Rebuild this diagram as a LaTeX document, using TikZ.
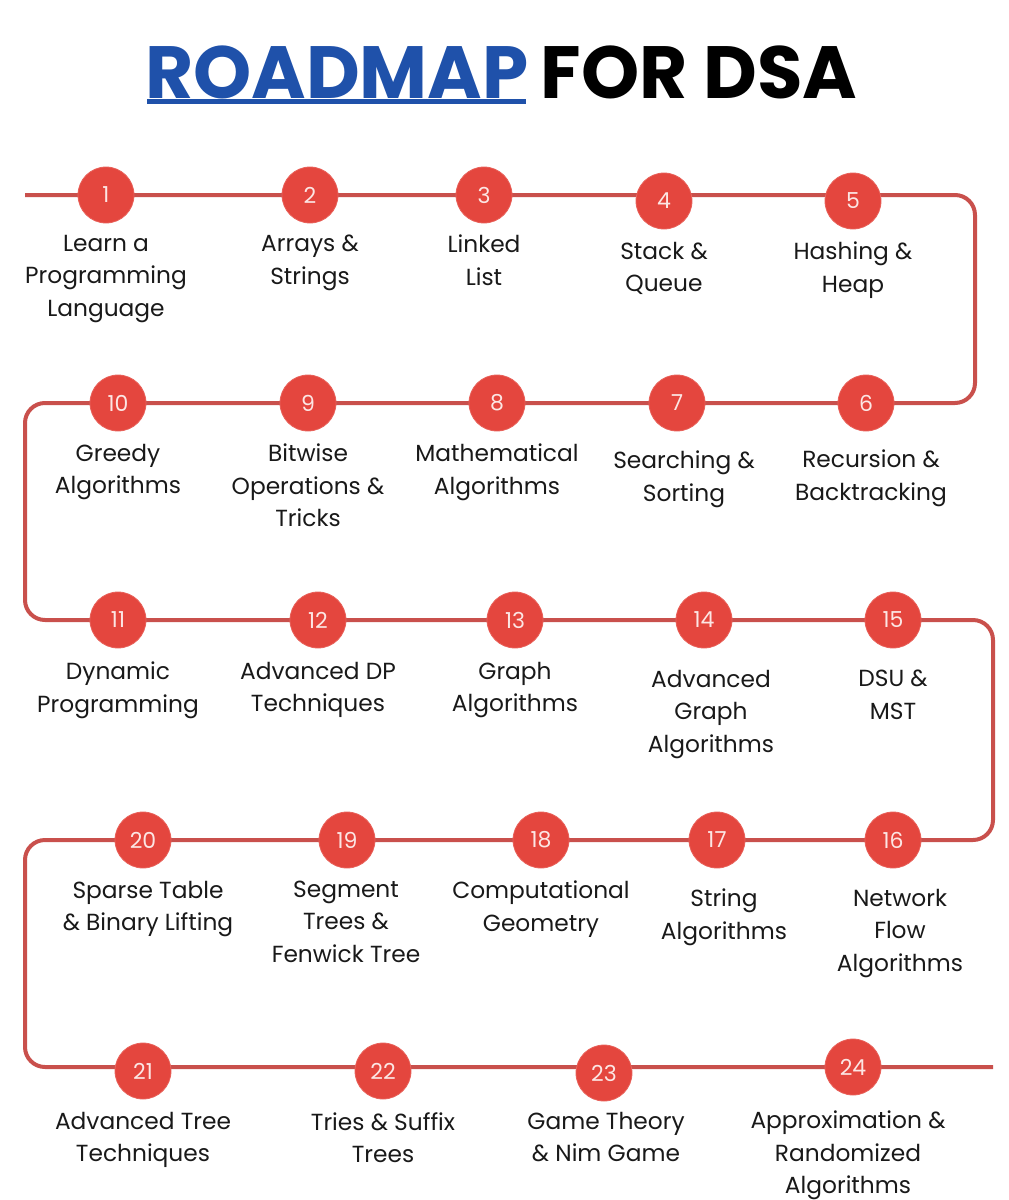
\documentclass[tikz,border=0pt]{standalone}
\usepackage{fontspec}
\setmainfont{Poppins}
\usetikzlibrary{backgrounds}
\definecolor{pathred}{HTML}{C9504C}
\definecolor{circred}{HTML}{E4463E}
\definecolor{numwhite}{HTML}{FCE6E4}
\definecolor{titleblue}{HTML}{1F51AA}
\tikzset{
  stepcirc/.style={circle,fill=circred,draw=circred!85!white,line width=0.8pt,minimum size=56pt,inner sep=0pt,text=numwhite,font=\fontsize{22}{22}\selectfont},
  steplabel/.style={anchor=north,align=center,inner sep=0pt,font=\fontsize{23.3}{32.3}\selectfont,text=black!90},
  road/.style={draw=pathred,line width=4pt,rounded corners=20pt}
}
\begin{document}
\begin{tikzpicture}[x=1pt,y=-1pt]
\useasboundingbox (0,0) rectangle (1009,1200);
% title
\node[anchor=west,inner sep=0pt,text=titleblue,font=\fontsize{74}{74}\selectfont\bfseries] (t1) at (145,72) {ROADMAP};
\node[anchor=base west,inner sep=0pt,font=\fontsize{74}{74}\selectfont\bfseries] (t2) at ([xshift=12pt]t1.base east) {FOR DSA};
\coordinate (u1) at (147,101);
\coordinate (u2) at (526,101);
\draw[titleblue,line width=5pt] (u1) -- (u2);
% circles
\foreach \n/\x/\y in {1/106/195,2/310/195,3/484/195,4/664/201,5/853/201,
  10/118/403,9/308/403,8/497/403,7/677/403,6/866/403,
  11/118/620,12/318/620,13/515/620,14/704/620,15/893/620,
  20/143/840,19/347/840,18/541/840,17/717/840,16/893/840,
  21/143/1071,22/383/1071,23/604/1073,24/853/1067}
  \node[stepcirc] (n\n) at (\x,\y) {\n};
% road
\coordinate (s) at (25,195);
\coordinate (e) at (993,1067);
\begin{scope}[on background layer]
\draw[road] (s) -- (975,195) -- (975,403) -- (25,403) -- (25,620) -- (993,620) -- (993,840) -- (25,840) -- (25,1067) -- (e);
\end{scope}
% labels
\foreach \x/\y/\t in {106/244/{Learn a\\Programming\\Language},310/244/{Arrays \&\\Strings},484/244/{Linked\\List},664/251/{Stack \&\\Queue},853/251/{Hashing \&\\Heap},
  118/453/{Greedy\\Algorithms},308/453/{Bitwise\\Operations \&\\Tricks},497/453/{Mathematical\\Algorithms},684/460/{Searching \&\\Sorting},871/459/{Recursion \&\\Backtracking},
  118/671/{Dynamic\\Programming},318/671/{Advanced DP\\Techniques},515/671/{Graph\\Algorithms},711/679/{Advanced\\Graph\\Algorithms},893/679/{DSU \&\\MST},
  148/890/{Sparse Table\\\& Binary Lifting},346/890/{Segment\\Trees \&\\Fenwick Tree},541/890/{Computational\\Geometry},724/898/{String\\Algorithms},900/898/{Network\\Flow\\Algorithms},
  143/1121/{Advanced Tree\\Techniques},383/1121/{Tries \& Suffix\\Trees},606/1121/{Game Theory\\\& Nim Game},848/1120/{Approximation \&\\Randomized\\Algorithms}}
  \node[steplabel] at (\x,\y-9) {\t};
\end{tikzpicture}
\end{document}
